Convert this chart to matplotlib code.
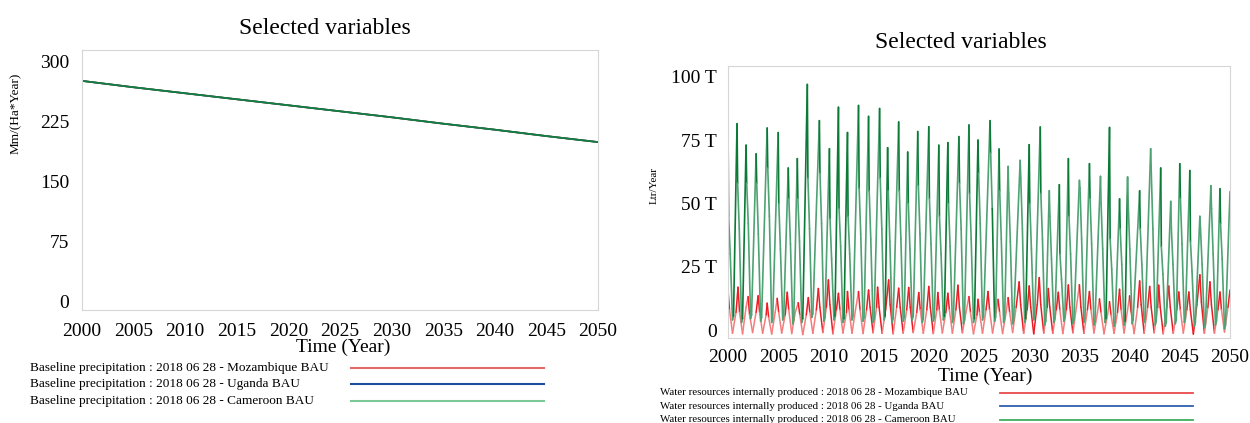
import matplotlib
matplotlib.use("Agg")
import matplotlib.pyplot as plt
from matplotlib.collections import LineCollection

# ---------------- data: left panel (Baseline precipitation) ----------------
years_l = [2000, 2005, 2010, 2015, 2020, 2025, 2030, 2035, 2040, 2045, 2050]
precip = [276, 268, 260.5, 253, 245.5, 238, 230.5, 222.5, 215, 207, 199.5]
left_yticks = [0, 75, 150, 225, 300]
left_series = ["Baseline precipitation : 2018 06 28 - Mozambique BAU",
               "Baseline precipitation : 2018 06 28 - Uganda BAU",
               "Baseline precipitation : 2018 06 28 - Cameroon BAU"]

# ---------------- data: right panel (Water resources, T = 1e12) -----------
g_peak_t = [2000.0, 2000.9, 2001.8, 2002.8, 2003.9, 2005.0, 2006.0, 2006.9, 2007.9, 2009.1,
            2010.1, 2011.0, 2011.9, 2013.0, 2014.0, 2015.1, 2015.9, 2017.0, 2017.9, 2018.9,
            2020.0, 2021.0, 2021.9, 2023.0, 2024.0, 2024.9, 2026.1, 2027.0, 2027.9, 2029.1,
            2030.0, 2031.1, 2032.0, 2033.0, 2033.9, 2035.0, 2036.0, 2037.1, 2038.0, 2039.0,
            2039.8, 2041.0, 2042.1, 2043.1, 2044.1, 2045.0, 2046.0, 2047.0, 2048.1, 2049.0,
            2050.0]
g_peak_v = [81.8, 81.5, 73, 69.6, 79.8, 78, 64, 67.7, 97, 82.7,
            71.6, 88, 78, 88.7, 84.4, 87.5, 72, 82.2, 70.3, 78.4,
            80.3, 73, 74, 76.4, 81, 75, 82.7, 71.5, 64.6, 67,
            73.2, 80.2, 55, 57.4, 67.7, 59.1, 65.7, 60.7, 80, 51.8,
            60.4, 55, 71.6, 64, 50.8, 65.7, 63, 44.9, 57, 55.8,
            54.7]
g_shoulder_v = [45, 58, 58, 58, 64, 50, 52, 52, 60, 62,
                44, 48, 45, 56, 55, 60, 55, 55, 50, 57,
                52, 45, 50, 58, 54, 62, 70, 55, 54, 60,
                50, 54, 45, 30, 45, 56, 52, 50, 36, 40,
                50, 40, 62, 33, 40, 52, 35, 40, 48, 42]
g_mid_v = [30, 40, 42, 38, 45, 32, 34, 35, 40, 42,
           28, 33, 30, 38, 36, 40, 35, 36, 32, 38,
           34, 30, 33, 40, 36, 42, 48, 36, 35, 40,
           32, 36, 28, 20, 30, 36, 34, 32, 24, 26,
           32, 26, 40, 22, 26, 34, 23, 26, 30, 28]
g_trough_v = [4, 3, 4.5, 3.5, 3, 4, 2.5, 3, 5, 3.5,
              4, 3, 4, 3.5, 3, 4, 3, 3.5, 4, 3,
              3.5, 4, 3, 2.5, 3, 4, 3.5, 3, 2.5, 3,
              4, 2, 3, 3.5, 2.5, 3, 2, 3, 1.5, 2,
              2.5, 3, 2, 1.5, 2.5, 3, 1.5, 1, 2, 0.5]

r_peak_t = [2000.0, 2001.0, 2002.0, 2003.0, 2003.9, 2004.9, 2005.9, 2007.0, 2008.0, 2009.0,
            2010.0, 2011.0, 2011.9, 2013.0, 2014.0, 2014.9, 2016.0, 2017.0, 2018.0, 2019.0,
            2020.0, 2020.9, 2021.9, 2022.9, 2024.0, 2024.9, 2025.9, 2026.9, 2027.9, 2029.0,
            2030.0, 2031.0, 2031.9, 2032.9, 2033.9, 2035.0, 2036.0, 2037.0, 2038.0, 2039.0,
            2040.0, 2041.0, 2042.0, 2042.9, 2043.9, 2044.9, 2045.9, 2047.0, 2048.0, 2049.0,
            2050.0]
r_peak_v = [15.8, 16.9, 13.2, 13.5, 10.6, 12.5, 14.9, 10.8, 12.8, 16.4,
            19.8, 14.5, 15.2, 15.2, 15.8, 16.9, 19.8, 16.5, 16.8, 14.8,
            17.2, 14.8, 14.5, 17.7, 13.2, 12.1, 15.2, 12.1, 12.8, 19.0,
            17.4, 20.7, 16.4, 14.9, 17.8, 17.9, 15.2, 12.3, 11.2, 16.1,
            13.5, 19.4, 17.2, 17.7, 17.4, 15.0, 15.0, 21.8, 19.0, 15.0,
            15.8]
r_after_v = [8, 7, 6, 7, 5, 7, 8, 6, 7, 9, 10, 8, 8, 8, 9, 9, 10, 9, 9, 8,
             9, 8, 8, 9, 7, 7, 8, 7, 7, 10, 9, 10, 9, 8, 9, 9, 8, 7, 6, 8,
             7, 10, 9, 9, 9, 8, 8, 11, 10, 8]
r_trough_v = [-1.3, -1.5, -1.0, -1.3, -1.6, -1.2, -1.4, -1.8, -1.3, -1.0,
              -1.5, -1.2, -1.3, -1.4, -1.1, -1.3, -1.5, -1.2, -1.0, -1.3,
              -1.4, -1.2, -1.3, -1.1, -1.5, -1.3, -1.2, -1.4, -1.0, -1.3,
              -1.5, -1.2, -1.3, -1.4, -1.1, -1.3, -1.2, -1.5, -1.3, -1.2,
              -1.4, -1.3, -1.1, -1.5, -1.3, -1.2, -1.6, -1.3, -1.2, -0.8]
r_before_v = [7, 9, 7, 6, 7, 6, 7, 6, 8, 9, 8, 7, 8, 8, 9, 8, 9, 8, 7, 8,
              8, 7, 8, 7, 6, 8, 7, 7, 9, 8, 10, 9, 8, 8, 9, 8, 7, 6, 7, 8,
              9, 9, 9, 9, 8, 8, 10, 9, 8, 9]
right_yticks = [0, 25, 50, 75, 100]
right_yticklabels = ["0", "25 T", "50 T", "75 T", "100 T"]
right_series = ["Water resources internally produced : 2018 06 28 - Mozambique BAU",
                "Water resources internally produced : 2018 06 28 - Uganda BAU",
                "Water resources internally produced : 2018 06 28 - Cameroon BAU"]
xticks = list(range(2000, 2051, 5))

# ---------------- build time series from read points ----------------
g_t, g_v = [], []
for i in range(len(g_peak_t)):
    g_t.append(g_peak_t[i]); g_v.append(g_peak_v[i])
    if i < len(g_peak_t) - 1:
        g_t.append(g_peak_t[i] + 0.06); g_v.append(g_shoulder_v[i])
        g_t.append(g_peak_t[i] + 0.22); g_v.append(g_mid_v[i])
        g_t.append(g_peak_t[i] + 0.45); g_v.append(g_trough_v[i])
        g_t.append(g_peak_t[i] + 0.55); g_v.append(g_trough_v[i] + 1.5)

r_t, r_v = [], []
for i in range(len(r_peak_t)):
    r_t.append(r_peak_t[i]); r_v.append(r_peak_v[i])
    if i < len(r_peak_t) - 1:
        r_t.append(r_peak_t[i] + 0.15); r_v.append(r_after_v[i])
        r_t.append(r_peak_t[i] + 0.45); r_v.append(r_trough_v[i])
        r_t.append(r_peak_t[i] + 0.8); r_v.append(r_before_v[i])

# ---------------- figure ----------------
plt.rcParams['font.family'] = ['Liberation Serif', 'DejaVu Serif']
W, H = 1250, 423
fig = plt.figure(figsize=(W / 100, H / 100), dpi=100)
fig.patch.set_facecolor('white')

def ax_rect(x0, y0, x1, y1):
    return [x0 / W, 1 - y1 / H, (x1 - x0) / W, (y1 - y0) / H]

spine_col = '#d6d6d6'
RED, BLUE, GREEN = '#ee2a2a', '#1f4e9c', '#11803c'


def shaded_line(ax, t, v, dark, light, lw, px_x, px_y, ratio):
    """Draw a line whose very steep segments are dark and slanted ones light."""
    segs, cols = [], []
    for k in range(len(t) - 1):
        dx = abs(t[k + 1] - t[k]) * px_x
        dy = abs(v[k + 1] - v[k]) * px_y
        segs.append([(t[k], v[k]), (t[k + 1], v[k + 1])])
        cols.append(dark if dy > ratio * dx else light)
    ax.add_collection(LineCollection(segs, colors=cols, linewidths=lw,
                                     capstyle='round', joinstyle='round'))


# ----- left -----
axl = fig.add_axes(ax_rect(82, 50, 598, 310))
axl.plot(years_l, precip, color=RED, lw=1.2)
axl.plot(years_l, precip, color=BLUE, lw=1.2)
axl.plot(years_l, precip, color=GREEN, lw=1.3)
axl.set_xlim(2000, 2050)
axl.set_ylim(-10.4, 314.6)
axl.set_yticks(left_yticks)
axl.set_xticks(xticks)
axl.tick_params(length=0, labelsize=14, pad=9)
for s in axl.spines.values():
    s.set_color(spine_col)

fig.text(325 / W, 1 - 28 / H, "Selected variables", ha='center', va='center', fontsize=17)
fig.text(16 / W, 1 - 113 / H, "Mm/(Ha*Year)", rotation=90, ha='center', va='center', fontsize=9.5)
fig.text(343 / W, 1 - 347 / H, "Time (Year)", ha='center', va='center', fontsize=14)
leg_cols_l = ['#e36a6a', '#1f4e9c', '#7cc896']
for k, (lab, c) in enumerate(zip(left_series, leg_cols_l)):
    yy = 1 - (368 + 16.3 * k) / H
    fig.text(30 / W, yy, lab, ha='left', va='center', fontsize=9.5)
    fig.add_artist(plt.Line2D([351 / W, 544 / W], [yy, yy], color=c, lw=1.5,
                              transform=fig.transFigure))

# ----- right -----
axr = fig.add_axes(ax_rect(728, 66, 1230, 338))
pxx, pxy = 502 / 50, 272 / 107.46
shaded_line(axr, r_t, r_v, '#ee1c25', '#f47c7c', 1.1, pxx, pxy, 8)
axr.plot(g_t, g_v, color=BLUE, lw=0.8, alpha=0.0)
shaded_line(axr, g_t, g_v, '#0b7a36', '#4fa273', 1.2, pxx, pxy, 48)
axr.set_xlim(2000, 2050)
axr.set_ylim(-3.16, 104.3)
axr.set_yticks(right_yticks)
axr.set_yticklabels(right_yticklabels)
axr.set_xticks(xticks)
axr.tick_params(length=0, labelsize=14, pad=8)
for s in axr.spines.values():
    s.set_color(spine_col)

fig.text(961 / W, 1 - 43 / H, "Selected variables", ha='center', va='center', fontsize=17)
fig.text(654 / W, 1 - 186 / H, "Ltr/Year", rotation=90, ha='center', va='center', fontsize=8)
fig.text(985 / W, 1 - 376 / H, "Time (Year)", ha='center', va='center', fontsize=14)
leg_cols_r = ['#e84a4a', '#3060b0', '#3fae5f']
for k, (lab, c) in enumerate(zip(right_series, leg_cols_r)):
    yy = 1 - (392.5 + 13.5 * k) / H
    fig.text(660 / W, yy, lab, ha='left', va='center', fontsize=7.8)
    fig.add_artist(plt.Line2D([1000 / W, 1193 / W], [yy, yy], color=c, lw=1.3,
                              transform=fig.transFigure))

fig.savefig("out.png", dpi=100, facecolor='white')
